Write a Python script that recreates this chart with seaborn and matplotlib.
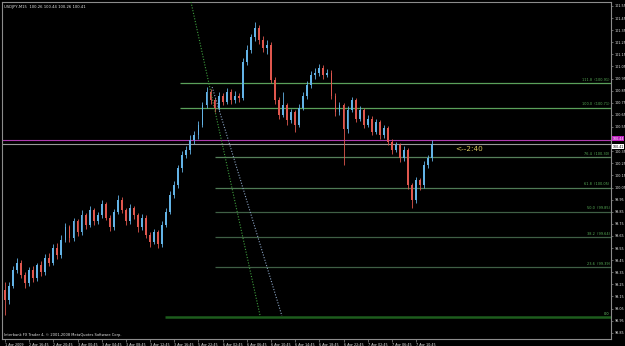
import numpy as np
import pandas as pd
import matplotlib
matplotlib.use("Agg")
import matplotlib.pyplot as plt
import matplotlib.transforms as mtransforms
import seaborn as sns

# ---------------- data (USDJPY, M15) ----------------
opens = [99.20, 99.12, 99.24, 99.37, 99.43, 99.33, 99.26, 99.37, 99.30, 99.41,
         99.35, 99.47, 99.43, 99.55, 99.49, 99.62, 99.72, 99.63, 99.77, 99.68,
         99.82, 99.74, 99.86, 99.77, 99.82, 99.91, 99.80, 99.72, 99.85, 99.95,
         99.86, 99.77, 99.88, 99.82, 99.72, 99.80, 99.66, 99.60, 99.68, 99.58,
         99.74, 99.85, 99.99, 100.07, 100.21, 100.32, 100.36, 100.44, 100.48, 100.57,
         100.73, 100.84, 100.77, 100.71, 100.81, 100.76, 100.84, 100.77, 100.81, 100.79,
         101.09, 101.19, 101.29, 101.37, 101.27, 101.20, 101.23, 100.94, 100.77, 100.65,
         100.73, 100.61, 100.67, 100.57, 100.71, 100.81, 100.90, 100.98, 101.00, 101.04,
         100.98, 101.00, 100.81, 100.67, 100.73, 100.53, 100.69, 100.77, 100.62, 100.69,
         100.57, 100.62, 100.51, 100.59, 100.48, 100.54, 100.43, 100.36, 100.40, 100.29,
         100.36, 100.07, 99.95, 100.11, 100.07, 100.24, 100.29]
closes = [99.12, 99.24, 99.37, 99.43, 99.33, 99.26, 99.37, 99.30, 99.41, 99.35,
          99.47, 99.43, 99.55, 99.49, 99.62, 99.72, 99.63, 99.77, 99.68, 99.82,
          99.74, 99.86, 99.77, 99.82, 99.91, 99.80, 99.72, 99.85, 99.95, 99.86,
          99.77, 99.88, 99.82, 99.72, 99.80, 99.66, 99.60, 99.68, 99.58, 99.74,
          99.85, 99.99, 100.07, 100.21, 100.32, 100.36, 100.44, 100.48, 100.57, 100.73,
          100.84, 100.77, 100.71, 100.81, 100.76, 100.84, 100.77, 100.81, 100.79, 101.09,
          101.19, 101.29, 101.37, 101.27, 101.20, 101.23, 100.94, 100.77, 100.65, 100.73,
          100.61, 100.67, 100.57, 100.71, 100.81, 100.90, 100.98, 101.00, 101.04, 100.98,
          101.00, 100.81, 100.67, 100.73, 100.53, 100.69, 100.77, 100.62, 100.69, 100.57,
          100.62, 100.51, 100.59, 100.48, 100.54, 100.43, 100.36, 100.40, 100.29, 100.36,
          100.07, 99.95, 100.11, 100.07, 100.24, 100.29, 100.41]
highs = [99.27, 99.27, 99.40, 99.47, 99.45, 99.35, 99.39, 99.40, 99.43, 99.44,
         99.50, 99.51, 99.58, 99.59, 99.66, 99.76, 99.74, 99.80, 99.79, 99.86,
         99.84, 99.90, 99.88, 99.85, 99.95, 99.93, 99.82, 99.87, 99.99, 99.97,
         99.88, 99.91, 99.90, 99.84, 99.83, 99.82, 99.68, 99.71, 99.70, 99.77,
         99.88, 100.02, 100.10, 100.24, 100.35, 100.39, 100.48, 100.52, 100.60, 100.76,
         100.88, 100.86, 100.79, 100.84, 100.83, 100.87, 100.86, 100.85, 100.83, 101.12,
         101.23, 101.32, 101.42, 101.39, 101.30, 101.27, 101.25, 100.96, 100.80, 100.84,
         100.75, 100.70, 100.69, 100.74, 100.84, 100.93, 101.01, 101.04, 101.07, 101.06,
         101.03, 101.02, 100.83, 100.76, 100.75, 100.72, 100.80, 100.79, 100.72, 100.71,
         100.65, 100.64, 100.62, 100.61, 100.57, 100.56, 100.45, 100.43, 100.42, 100.39,
         100.38, 100.09, 100.14, 100.13, 100.27, 100.32, 100.44]
lows = [99.00, 99.09, 99.22, 99.34, 99.30, 99.22, 99.24, 99.27, 99.28, 99.32,
        99.33, 99.40, 99.41, 99.46, 99.47, 99.60, 99.60, 99.61, 99.65, 99.66,
        99.71, 99.72, 99.74, 99.75, 99.80, 99.78, 99.69, 99.70, 99.83, 99.84,
        99.74, 99.75, 99.79, 99.68, 99.70, 99.63, 99.56, 99.58, 99.55, 99.56,
        99.72, 99.83, 99.96, 100.05, 100.18, 100.29, 100.33, 100.41, 100.45, 100.55,
        100.71, 100.74, 100.67, 100.69, 100.73, 100.74, 100.74, 100.75, 100.76, 100.77,
        101.06, 101.16, 101.26, 101.24, 101.17, 101.15, 100.91, 100.74, 100.62, 100.63,
        100.57, 100.58, 100.51, 100.55, 100.69, 100.78, 100.87, 100.95, 100.97, 100.95,
        100.96, 100.78, 100.64, 100.65, 100.24, 100.50, 100.67, 100.59, 100.60, 100.54,
        100.55, 100.48, 100.49, 100.45, 100.46, 100.40, 100.33, 100.34, 100.26, 100.27,
        100.04, 99.88, 99.92, 100.03, 100.05, 100.21, 100.27]

price_ticks = [98.85, 98.95, 99.05, 99.15, 99.25, 99.35, 99.45, 99.55, 99.65, 99.75,
               99.85, 99.95, 100.05, 100.15, 100.25, 100.35, 100.45, 100.55, 100.65,
               100.75, 100.85, 100.95, 101.05, 101.15, 101.25, 101.35, 101.45, 101.55]
time_labels = ["1 Apr 2009", "2 Apr 16:45", "2 Apr 20:45", "3 Apr 00:45", "3 Apr 04:45",
               "3 Apr 08:45", "3 Apr 12:45", "3 Apr 16:45", "5 Apr 22:45", "6 Apr 02:45",
               "6 Apr 06:45", "6 Apr 10:45", "6 Apr 14:45", "6 Apr 18:45", "6 Apr 22:45",
               "7 Apr 02:45", "7 Apr 06:45", "7 Apr 10:45"]
time_label_bars = [0, 6, 12, 18, 24, 30, 36, 42, 48, 54, 60, 66, 72, 78, 84, 90, 96, 102]

fib_levels = ["0.0", "23.6", "38.2", "50.0", "61.8", "76.4", "100.0", "111.8"]
fib_prices = [98.98, 99.39, 99.64, 99.85, 100.05, 100.30, 100.71, 100.91]
fib_start = [39.7, 52.1, 52.1, 52.1, 52.1, 52.1, 43.4, 43.4]
fib_colors = ["#1d5c1d", "#3f5f45", "#3f5f45", "#3f5f45", "#4f7a55", "#56805a", "#5aa05a", "#5aa05a"]

trend1_x = [46.15, 63.3]
trend1_y = [101.583, 98.99]
trend2_x = [51.4, 68.7]
trend2_y = [100.88, 98.99]

bid_price = 100.41
line_price = 100.44

# ---------------- figure ----------------
sns.set_style("dark")
plt.rcParams["font.family"] = ["DejaVu Sans"]

fig = plt.figure(figsize=(6.25, 3.46), dpi=100, facecolor="black")
W, H = 625, 346
ax = fig.add_axes([2 / W, (H - 339) / H, (611 - 2) / W, (339 - 2) / H])
ax.set_facecolor("black")

df = pd.DataFrame({"open": opens, "high": highs, "low": lows, "close": closes})
df["bar"] = np.arange(len(df))
up = df["close"] >= df["open"]
cols = np.where(up, "#63b3e6", "#e0574e")

ax.vlines(df["bar"], df["low"], df["high"], colors=cols, lw=0.6, zorder=3)
body_low = np.minimum(df["open"], df["close"])
body_h = np.maximum(np.abs(df["close"] - df["open"]), 0.006)
ax.bar(df["bar"], body_h, bottom=body_low, width=0.46, color=cols, linewidth=0, zorder=4)

# fibonacci levels
xr = 150.37
for lvl, p, xs, c in zip(fib_levels, fib_prices, fib_start, fib_colors):
    lw = 1.8 if lvl == "0.0" else 0.9
    ax.hlines(p, xs, xr, colors=c, lw=lw, zorder=2)
    txt = lvl if lvl == "0.0" else f"{lvl}  ({p:.2f})"
    ax.text(150.0, p + 0.012, txt, ha="right", va="bottom", fontsize=2.5,
            color="#6fcf6f" if lvl == "0.0" else "#58b058", zorder=5)

# trend lines
tl = pd.DataFrame({"x": trend1_x + trend2_x, "y": trend1_y + trend2_y,
                   "line": ["a", "a", "b", "b"]})
sns.lineplot(data=tl[tl.line == "a"], x="x", y="y", ax=ax, color="#3fa03f",
             lw=0.8, linestyle=(0, (1, 1.5)), zorder=3)
sns.lineplot(data=tl[tl.line == "b"], x="x", y="y", ax=ax, color="#8aa4c4",
             lw=0.8, linestyle=(0, (1, 1.5)), zorder=3)

# horizontal price lines
ax.axhline(line_price, color="#b03cb0", lw=0.8, zorder=2)
ax.axhline(bid_price, color="#9a9a9a", lw=0.8, zorder=2)

ax.set_xlim(-0.744, 150.37)
ax.set_ylim(98.798, 101.583)
ax.set_xlabel("")
ax.set_ylabel("")

# axes styling
for s in ax.spines.values():
    s.set_visible(True)
    s.set_color("#8c8c8c")
    s.set_linewidth(0.8)
ax.grid(False)
ax.yaxis.tick_right()
ax.set_yticks(price_ticks)
# the tick label hidden under the price boxes (as in the terminal) is left blank
ax.set_yticklabels(["" if abs(v - line_price) < 0.05 else f"{v:.2f}" for v in price_ticks])
ax.set_xticks(time_label_bars)
ax.set_xticklabels(time_labels)
ax.tick_params(axis="y", colors="#8c8c8c", labelcolor="#e6e6e6", labelsize=2.4,
               length=1.5, width=0.5, pad=1.0, right=True, left=False)
ax.tick_params(axis="x", colors="#8c8c8c", labelcolor="#e6e6e6", labelsize=2.4,
               length=2, width=0.5, pad=0.6, bottom=True)
for lab in ax.get_xticklabels():
    lab.set_ha("left")

# price boxes on the right axis
tr = mtransforms.blended_transform_factory(ax.transAxes, ax.transData)
ax.text(1.002, line_price + 0.014, f"{line_price:.2f}", transform=tr, fontsize=2.3, color="white",
        va="center", ha="left", bbox=dict(facecolor="#c020c0", edgecolor="none", pad=0.4),
        zorder=6, clip_on=False)
ax.text(1.002, bid_price - 0.024, f"{bid_price:.2f}", transform=tr, fontsize=2.3, color="black",
        va="center", ha="left", bbox=dict(facecolor="white", edgecolor="none", pad=0.4),
        zorder=6, clip_on=False)

# texts
ax.text(111.7, 100.37, "<--2:40", fontsize=5.2, color="#d8c860", va="center", ha="left", zorder=6)
ax.text(0.004, 0.992, "USDJPY,M15  100.26 100.44 100.26 100.41", transform=ax.transAxes,
        fontsize=2.7, color="#e6e6e6", va="top", ha="left")
ax.text(0.003, 0.006, "Interbank FX Trader 4, \u00a9 2001-2008 MetaQuotes Software Corp.",
        transform=ax.transAxes, fontsize=2.6, color="#e6e6e6", va="bottom", ha="left")

fig.savefig("out.png", dpi=100, facecolor="black")
